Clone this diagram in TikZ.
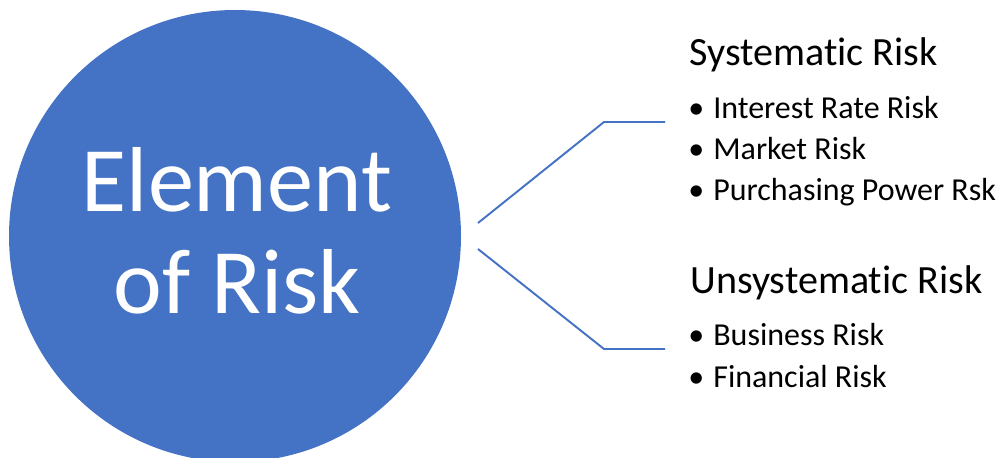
\documentclass[tikz,border=0pt]{standalone}
\usepackage{fontspec}
\setmainfont{Carlito}[Ligatures=NoCommon]
\usepackage{xcolor}
\definecolor{riskblue}{HTML}{4472C4}
\newcommand{\rbul}{\makebox[0.5cm][l]{\textbullet}}

\begin{document}
\begin{tikzpicture}[line cap=round,
  head/.style={anchor=base west,inner sep=0pt,font=\fontsize{22.8}{27}\selectfont},
  item/.style={anchor=base west,inner sep=0pt,font=\fontsize{18.2}{22}\selectfont},
  link/.style={riskblue,line width=1.1pt,line cap=butt}]
\useasboundingbox (0,0) rectangle (20,9.14);
\clip (0,0) rectangle (20,9.14);
% the big circle
\node[circle,fill=riskblue,minimum size=9.04cm,inner sep=0pt] (elem) at (4.70,4.42) {};
\node[text=white,align=center,inner sep=0pt,font=\fontsize{52.5}{58}\selectfont]
  (elemtext) at (4.74,4.52) {Element\\of Risk};
% two branches
\coordinate (sysfrom) at (9.56,4.68);
\coordinate (sysbend) at (12.08,6.70);
\coordinate (systo) at (13.30,6.70);
\coordinate (unsfrom) at (9.56,4.16);
\coordinate (unsbend) at (12.08,2.16);
\coordinate (unsto) at (13.30,2.16);
\draw[link] (sysfrom) -- (sysbend) -- (systo);
\draw[link] (unsfrom) -- (unsbend) -- (unsto);
% systematic side
\node[head] (sys) at (13.78,7.84) {Systematic Risk};
\node[item] (sysa) at (13.76,6.78) {\rbul Interest Rate Risk};
\node[item] (sysb) at (13.76,5.96) {\rbul Market Risk};
\node[item] (sysc) at (13.76,5.14) {\rbul Purchasing Power Rsk};
% unsystematic side
\node[head] (uns) at (13.80,3.28) {Unsystematic Risk};
\node[item] (unsa) at (13.76,2.24) {\rbul Business Risk};
\node[item] (unsb) at (13.76,1.40) {\rbul Financial Risk};
\end{tikzpicture}
\end{document}
